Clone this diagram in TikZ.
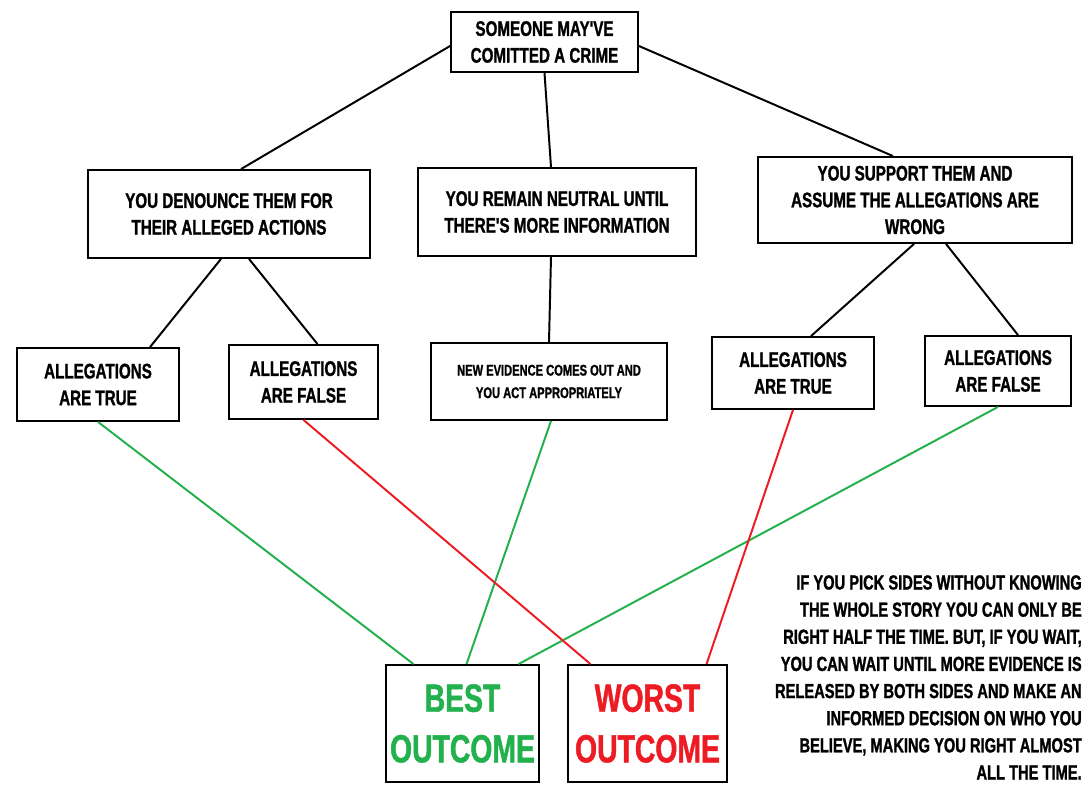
\documentclass[tikz,border=0pt]{standalone}
\usepackage{fontspec}
\newfontfamily\imp{Liberation Sans Bold}[FakeStretch=0.72,FakeBold=1.2]
\definecolor{goodgreen}{RGB}{34,177,76}
\definecolor{badred}{RGB}{237,28,36}

\begin{document}
\begin{tikzpicture}[x=0.025cm,y=-0.025cm]
\tikzstyle{box}=[draw,line width=1.3pt,fill=white,rectangle,align=center,font=\imp\fontsize{15}{19}\selectfont,inner sep=2pt]
\tikzstyle{link}=[line width=1.4pt]
\useasboundingbox (0,0) rectangle (1088,789);

% question and the three reactions
\node[box,minimum width=4.675cm,minimum height=1.5cm] (crime) at (544.5,42) {SOMEONE MAY'VE\\COMITTED A CRIME};
\node[box,minimum width=7.05cm,minimum height=2.2cm] (denounce) at (229,214) {YOU DENOUNCE THEM FOR\\THEIR ALLEGED ACTIONS};
\node[box,minimum width=6.95cm,minimum height=2.2cm] (neutral) at (557,212) {YOU REMAIN NEUTRAL UNTIL\\THERE'S MORE INFORMATION};
\node[box,minimum width=7.85cm,minimum height=2.15cm] (support) at (915,200) {YOU SUPPORT THEM AND\\ASSUME THE ALLEGATIONS ARE\\WRONG};

% what happens next
\node[box,minimum width=4.05cm,minimum height=1.825cm] (trueA) at (98,384.5) {ALLEGATIONS\\ARE TRUE};
\node[box,minimum width=3.725cm,minimum height=1.85cm] (falseA) at (303.5,382) {ALLEGATIONS\\ARE FALSE};
\node[box,minimum width=5.9cm,minimum height=1.925cm,font=\imp\fontsize{11}{16}\selectfont] (evidence) at (549,381.5) {NEW EVIDENCE COMES OUT AND\\YOU ACT APPROPRIATELY};
\node[box,minimum width=4.05cm,minimum height=1.8cm] (trueB) at (793,373) {ALLEGATIONS\\ARE TRUE};
\node[box,minimum width=3.65cm,minimum height=1.75cm] (falseB) at (998,371) {ALLEGATIONS\\ARE FALSE};

% outcomes
\node[box,minimum width=3.825cm,minimum height=2.925cm,text=goodgreen,font=\imp\fontsize{28}{36}\selectfont] (best) at (462.5,723.5) {BEST\\OUTCOME};
\node[box,minimum width=3.975cm,minimum height=2.925cm,text=badred,font=\imp\fontsize{28}{36}\selectfont] (worst) at (647.5,723.5) {WORST\\OUTCOME};
\node[anchor=north east,align=right,inner sep=0pt,font=\imp\fontsize{14.5}{19.3}\selectfont] (moral) at (1082,575) {IF YOU PICK SIDES WITHOUT KNOWING\\THE WHOLE STORY YOU CAN ONLY BE\\RIGHT HALF THE TIME. BUT, IF YOU WAIT,\\YOU CAN WAIT UNTIL MORE EVIDENCE IS\\RELEASED BY BOTH SIDES AND MAKE AN\\INFORMED DECISION ON WHO YOU\\BELIEVE, MAKING YOU RIGHT ALMOST\\ALL THE TIME.};

% tree lines
\draw[link] ([yshift=-0.1cm]crime.west) -- ([xshift=0.3cm]denounce.north);
\draw[link] (crime.south) -- ([xshift=-0.15cm]neutral.north);
\draw[link] ([yshift=-0.1cm]crime.east) -- ([xshift=-0.55cm]support.north);
\draw[link] ([xshift=-0.2cm]denounce.south) -- ([xshift=1.3cm]trueA.north);
\draw[link] ([xshift=0.5cm]denounce.south) -- ([xshift=0.35cm]falseA.north);
\draw[link] ([xshift=-0.15cm]neutral.south) -- (evidence.north);
\draw[link] ([xshift=-0.025cm]support.south) -- ([xshift=0.45cm]trueB.north);
\draw[link] ([xshift=0.775cm]support.south) -- ([xshift=0.5cm]falseB.north);

% outcome lines
\draw[link,goodgreen] (trueA.south) -- ([xshift=-1.225cm]best.north);
\draw[link,goodgreen] ([xshift=0.05cm]evidence.south) -- ([xshift=0.1cm]best.north);
\draw[link,goodgreen] (falseB.south) -- ([xshift=1.4cm]best.north);
\draw[link,badred] (falseA.south) -- ([xshift=-1.425cm]worst.north);
\draw[link,badred] (trueB.south) -- ([xshift=1.475cm]worst.north);
\end{tikzpicture}
\end{document}
